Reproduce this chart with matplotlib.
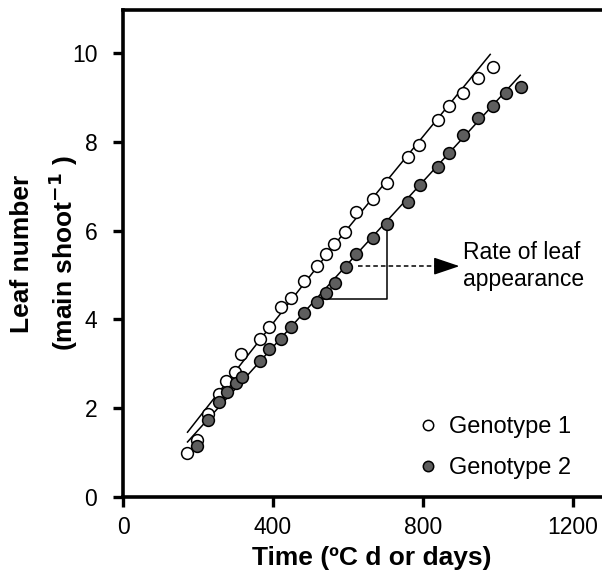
import numpy as np
import matplotlib
matplotlib.use("Agg")
import matplotlib.pyplot as plt

plt.rcParams['font.family'] = ['Liberation Sans', 'DejaVu Sans']

# Genotype 1 (open circles)
g1_time = [170, 197, 226, 255, 275, 299, 315, 364, 389, 420, 449, 482, 518, 542, 562,
           591, 622, 667, 705, 759, 788, 839, 868, 906, 946, 986]
g1_leaf = [0.98, 1.28, 1.86, 2.33, 2.61, 2.82, 3.21, 3.57, 3.84, 4.27, 4.49, 4.86, 5.20,
           5.47, 5.70, 5.98, 6.41, 6.71, 7.07, 7.65, 7.93, 8.49, 8.81, 9.09, 9.43, 9.68]
# Genotype 2 (filled circles)
g2_time = [197, 226, 257, 277, 302, 317, 366, 390, 422, 449, 482, 518, 542, 564, 594,
           622, 667, 705, 759, 791, 839, 868, 906, 947, 986, 1021, 1061]
g2_leaf = [1.15, 1.73, 2.13, 2.36, 2.56, 2.71, 3.06, 3.33, 3.57, 3.82, 4.15, 4.40, 4.60,
           4.81, 5.19, 5.47, 5.83, 6.16, 6.65, 7.03, 7.44, 7.76, 8.15, 8.53, 8.81, 9.09, 9.23]

# fitted lines
fit1_time = [172, 575, 979]
fit1_leaf = [1.46, 5.80, 9.97]
fit2_time = [172, 615, 1059]
fit2_leaf = [1.24, 5.40, 9.50]

# slope triangle and arrow
tri_time = [518, 705, 705]
tri_leaf = [4.45, 4.45, 6.05]
arrow_start = (627, 5.20)
arrow_end = (897, 5.20)
note_pos = (907, 5.20)

x_ticks = [0, 400, 800, 1200]
y_ticks = [0, 2, 4, 6, 8, 10]

fig = plt.figure(figsize=(6.02, 5.82), dpi=100)
ax = fig.add_axes([123 / 602, 85 / 582, 479 / 602, 487 / 582])

ax.plot(fit1_time, fit1_leaf, color='k', lw=1.1, zorder=2)
ax.plot(fit2_time, fit2_leaf, color='k', lw=1.1, zorder=2)
ax.plot(g1_time, g1_leaf, 'o', ms=8.5, mfc='white', mec='k', mew=1.1, zorder=3,
        label='Genotype 1')
ax.plot(g2_time, g2_leaf, 'o', ms=8.5, mfc='#5e5e5e', mec='k', mew=1.1, zorder=3,
        label='Genotype 2')

# triangle showing the slope
ax.plot(tri_time, tri_leaf, color='k', lw=1.1, zorder=2)

# dashed arrow + label
ax.plot([arrow_start[0], arrow_end[0] - 60], [arrow_start[1], arrow_end[1]],
        color='k', lw=1.1, linestyle=(0, (3, 2)))
ax.annotate('', xy=arrow_end, xytext=(arrow_end[0] - 62, arrow_end[1]),
            arrowprops=dict(arrowstyle='-|>,head_length=16,head_width=5.4',
                            mutation_scale=1, color='k', lw=1.1, shrinkA=0, shrinkB=0))
ax.text(note_pos[0], note_pos[1], 'Rate of leaf\nappearance', fontsize=16.5,
        ha='left', va='center', linespacing=1.2)

ax.set_xlim(0, 1277)
ax.set_ylim(0, 10.97)
ax.set_xticks(x_ticks)
ax.set_yticks(y_ticks)

for s in ['left', 'bottom', 'top']:
    ax.spines[s].set_linewidth(2.6)
ax.spines['right'].set_visible(False)
ax.tick_params(axis='both', direction='out', length=7.5, width=2.4, labelsize=16.5)
ax.tick_params(axis='y', pad=11)
ax.tick_params(axis='x', pad=6)

ax.set_xlabel('Time (ºC d or days)', fontsize=19, fontweight='bold', labelpad=6)
ax.xaxis.set_label_coords(0.52, -0.1)
ax.xaxis.label.set_va('top')
ax.set_ylabel('Leaf number\n(main shoot$^{\\mathbf{-1}}$ )', fontsize=19, fontweight='bold',
              linespacing=1.45)
ax.yaxis.set_label_coords(-0.09, 0.5)

ax.legend(loc='center left', bbox_to_anchor=(0.597, 0.101), frameon=False, fontsize=17,
          handlelength=0.6, handletextpad=0.6, labelspacing=0.8, borderpad=0,
          markerscale=0.88)

fig.savefig('out.png', dpi=100)
